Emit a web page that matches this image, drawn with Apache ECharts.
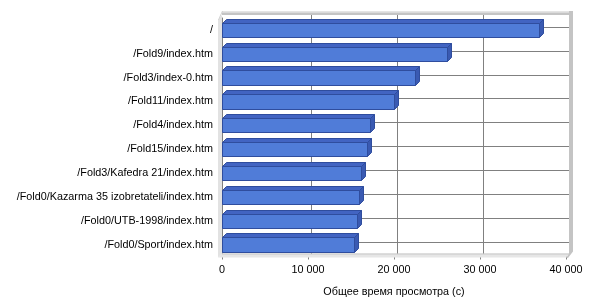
<!DOCTYPE html>
<html><head><meta charset="utf-8">
<script src="https://cdn.jsdelivr.net/npm/echarts@6/dist/echarts.min.js"></script>
<style>html,body{margin:0;padding:0;background:#fff}#c{width:600px;height:300px}</style>
</head><body><div id="c"></div>
<script>
const categories = ['/', '/Fold9/index.htm', '/Fold3/index-0.htm', '/Fold11/index.htm', '/Fold4/index.htm', '/Fold15/index.htm', '/Fold3/Kafedra 21/index.htm', '/Fold0/Kazarma 35 izobretateli/index.htm', '/Fold0/UTB-1998/index.htm', '/Fold0/Sport/index.htm'];
const values = [36900, 26200, 22480, 20030, 17170, 16860, 16200, 15970, 15730, 15380];
const xTicks = [0, 10000, 20000, 30000, 40000];
const xName = 'Общее время просмотра (с)';

const FONT = 'Liberation Sans';
const FS = 10.8;
const chart = echarts.init(document.getElementById('c'), null, {renderer: 'canvas'});

function frame(params, api) {
  const n = categories.length;
  const D = 3;
  const xa = api.coord([xTicks[0], 0])[0];
  const xb = api.coord([xTicks[xTicks.length - 1], 0])[0];
  const band = api.size([0, 1])[1];
  const yt = api.coord([0, 0])[1] - band / 2;
  const yb = api.coord([0, n - 1])[1] + band / 2;
  const ch = [];
  // left wall strip
  ch.push({type: 'polygon', shape: {points: [[xa - 4, yt + 2], [xa, yt - D], [xa, yb - D], [xa - 4, yb + 1]]}, style: {fill: '#e2e2e2'}});
  // floor
  ch.push({type: 'polygon', shape: {points: [[xa - 4, yb + 1], [xa, yb - D], [xb + D, yb - D], [xb, yb + 1]]}, style: {fill: '#e6e6e6'}});
  ch.push({type: 'line', shape: {x1: xa, y1: yb - D + 0.5, x2: xb + D, y2: yb - D + 0.5}, style: {stroke: '#c8c8c8', lineWidth: 1}});
  // back vertical gridlines
  xTicks.slice(1, -1).forEach(t => {
    const x = Math.round(api.coord([t, 0])[0] + D) + 0.5;
    ch.push({type: 'line', shape: {x1: x, y1: yt - D, x2: x, y2: yb - D}, style: {stroke: '#808080', lineWidth: 1}});
  });
  // back horizontal gridlines
  for (let i = 0; i < n; i++) {
    const y = Math.round(api.coord([0, i])[1] - D) + 0.5;
    ch.push({type: 'line', shape: {x1: xa, y1: y, x2: xb + D, y2: y}, style: {stroke: '#808080', lineWidth: 1}});
  }
  // top band of back wall
  ch.push({type: 'rect', shape: {x: xa, y: yt - D - 4, width: xb + D - xa + 4, height: 1.5}, style: {fill: '#e4e4e4'}});
  ch.push({type: 'rect', shape: {x: xa, y: yt - D - 2.5, width: xb + D - xa + 4, height: 2.5}, style: {fill: '#c4c4c4'}});
  ch.push({type: 'polygon', shape: {points: [[xa - 4, yt + 2], [xa, yt - D - 4], [xa + 1, yt - D - 4], [xa - 3, yt + 2]]}, style: {fill: '#d0d0d0'}});
  // right band of back wall
  ch.push({type: 'polygon', shape: {points: [[xb + D, yt - D - 4], [xb + D + 4, yt - D - 4], [xb + D + 4, yb - D - 2], [xb + 2, yb + 1.5], [xb, yb + 1.5], [xb + D, yb - D]]}, style: {fill: '#c4c4c4'}});
  return {type: 'group', children: ch};
}

function bar3d(params, api) {
  const i = api.value(0), v = api.value(1);
  const s = api.coord([0, i]), e = api.coord([v, i]);
  const h = api.size([0, 1])[1] * 0.6;
  const D = 4;
  const x0 = Math.round(s[0]) + 0.5, x1 = Math.round(e[0]) + 0.5;
  const y0 = Math.round(s[1] - h / 2) + 0.5, y1 = Math.round(s[1] + h / 2) + 0.5;
  return {type: 'group', children: [
    {type: 'polygon', shape: {points: [[x0, y0], [x0 + D, y0 - D], [x1 + D, y0 - D], [x1, y0]]}, style: {fill: '#4264c2', stroke: '#2f4d9e', lineWidth: 1}},
    {type: 'polygon', shape: {points: [[x1, y0], [x1 + D, y0 - D], [x1 + D, y1 - D], [x1, y1]]}, style: {fill: '#3a5ab2', stroke: '#2f4d9e', lineWidth: 1}},
    {type: 'rect', shape: {x: x0, y: y0, width: x1 - x0, height: y1 - y0}, style: {fill: '#507cd8', stroke: '#2f4d9e', lineWidth: 1}}
  ]};
}

chart.setOption({
  animation: false,
  backgroundColor: '#ffffff',
  grid: {left: 222, right: 34, top: 18, bottom: 43.5, containLabel: false, outerBoundsMode: 'none'},
  xAxis: {
    type: 'value', min: 0, max: 40000, interval: 10000,
    name: xName, nameLocation: 'middle', nameGap: 30,
    nameTextStyle: {fontFamily: FONT, fontSize: FS, color: '#000'},
    axisLine: {show: true, lineStyle: {color: '#b4b4b4', width: 1}},
    axisTick: {show: true, length: 3, lineStyle: {color: '#808080'}},
    axisLabel: {fontFamily: FONT, fontSize: FS, color: '#000', margin: 8,
      formatter: v => v === 0 ? '0' : (v / 1000) + ' 000'},
    splitLine: {show: false}
  },
  yAxis: {
    type: 'category', data: categories, inverse: true, offset: 4,
    axisLine: {show: true, lineStyle: {color: '#808080', width: 1}},
    axisTick: {show: true, alignWithLabel: true, length: 3, lineStyle: {color: '#808080'}},
    axisLabel: {fontFamily: FONT, fontSize: FS, color: '#000', margin: 5},
    splitLine: {show: false}
  },
  series: [
    {type: 'custom', name: 'frame', renderItem: frame, data: [[0, 0]], z: 1, silent: true, clip: false},
    {type: 'custom', name: 'time', renderItem: bar3d, data: values.map((v, i) => [i, v]), encode: {x: 1, y: 0}, z: 2, clip: false}
  ]
});
</script></body></html>
